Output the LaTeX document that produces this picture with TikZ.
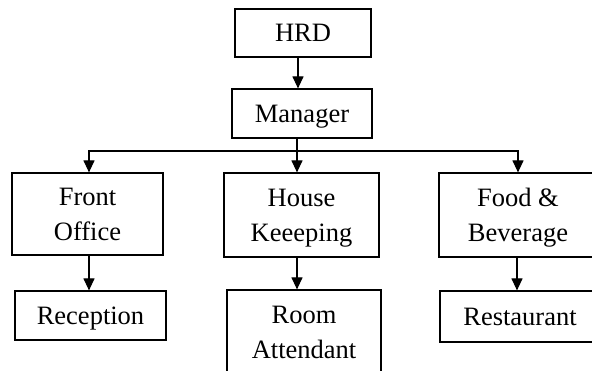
\documentclass[tikz,border=0pt]{standalone}
\usepackage{fontspec}
\setmainfont{Liberation Serif}
\usetikzlibrary{arrows.meta}
\begin{document}
\begin{tikzpicture}[x=1pt,y=-1pt,
  box/.style={draw, line width=1.2pt, inner sep=0pt, align=center, text depth=0pt,
    font=\fontsize{26.5}{35}\selectfont},
  arr/.style={line width=1.2pt, -{Triangle[width=11pt,length=12pt]}},
  ln/.style={line width=1.2pt}]
\useasboundingbox (0,0) rectangle (592,371);
\clip (0,0) rectangle (592,371);
\node[box, minimum width=136pt, minimum height=48pt] (hrd) at (303,33) {HRD};
\node[box, minimum width=140pt, minimum height=49pt] (mgr) at (302,113.5) {Manager};
\node[box, minimum width=151pt, minimum height=82pt] (fo) at (87.5,214) {Front\\Office};
\node[box, minimum width=155pt, minimum height=84pt] (hk) at (301.5,215) {House\\Keeeping};
\node[box, minimum width=158pt, minimum height=84pt] (fb) at (518,215) {Food \&\\Beverage};
\node[box, minimum width=151pt, minimum height=49pt] (rec) at (90.5,315.5) {Reception};
\node[box, minimum width=154pt, minimum height=84pt] (ra) at (304,332) {Room\\Attendant};
\node[box, minimum width=160pt, minimum height=51pt] (rest) at (520,316.5) {Restaurant};
\coordinate (a1) at (298,0);
\coordinate (bus) at (297,151);
\coordinate (bl) at (89,151);
\coordinate (br) at (518,151);
\coordinate (c1) at (89,0);
\coordinate (c3) at (517,0);
\draw[arr] (hrd.south -| a1) -- (mgr.north -| a1);
\draw[ln] (mgr.south -| bus) -- (bus);
\draw[arr] (bus) -- (bus |- hk.north);
\draw[arr] (bus) -- (bl) -- (bl |- fo.north);
\draw[arr] (bus) -- (br) -- (br |- fb.north);
\draw[arr] (fo.south -| c1) -- (rec.north -| c1);
\draw[arr] (hk.south -| bus) -- (ra.north -| bus);
\draw[arr] (fb.south -| c3) -- (rest.north -| c3);
\end{tikzpicture}
\end{document}
